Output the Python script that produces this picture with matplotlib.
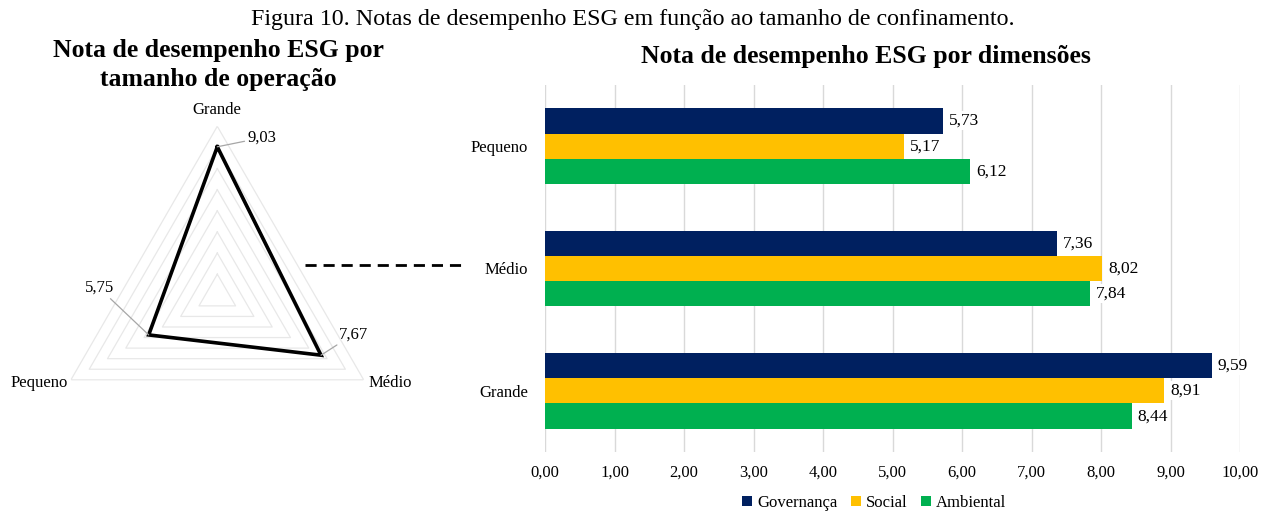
import numpy as np
import matplotlib
matplotlib.use("Agg")
import matplotlib.pyplot as plt
from matplotlib.lines import Line2D

plt.rcParams['font.family'] = ['Liberation Serif', 'DejaVu Serif']

# ---- data ----
radar_labels = ["Grande", "Médio", "Pequeno"]
radar_values = [9.03, 7.67, 5.75]

categories = ["Pequeno", "Médio", "Grande"]
governanca = [5.73, 7.36, 9.59]
social = [5.17, 8.02, 8.91]
ambiental = [6.12, 7.84, 8.44]
series_names = ["Governança", "Social", "Ambiental"]
colors = ["#002060", "#FFC000", "#00B050"]
xticks = [0, 1, 2, 3, 4, 5, 6, 7, 8, 9, 10]

def fmt(v):
    return f"{v:.2f}".replace(".", ",")

W, H = 1265, 515
fig = plt.figure(figsize=(W / 100, H / 100), dpi=100)

fig.text(0.5, 1 - 19 / H, "Figura 10. Notas de desempenho ESG em função ao tamanho de confinamento.",
         ha="center", va="center", fontsize=17.3)

# ---- radar ----
cx, cy, R = 217.3, 295.3, 169
axr = fig.add_axes([(cx - R) / W, (H - cy - R) / H, 2 * R / W, 2 * R / H], projection="polar")
axr.set_theta_offset(np.pi / 2)
axr.set_theta_direction(-1)
axr.set_rlim(2, 10)
axr.grid(False)
axr.spines["polar"].set_visible(False)
axr.set_xticks([])
axr.set_yticks([])
axr.patch.set_alpha(0)
thetas = np.deg2rad([0, 120, 240])
tclosed = np.append(thetas, thetas[0])
for r in range(3, 11):
    axr.plot(tclosed, [r] * 4, color="#e8e8e8", lw=0.9, zorder=1)
vals = np.append(radar_values, radar_values[0])
axr.plot(tclosed, vals, color="black", lw=2.6, zorder=3, solid_joinstyle="miter")

axr.annotate(radar_labels[0], xy=(thetas[0], 10), xytext=(0, 8), textcoords="offset pixels",
             ha="center", va="bottom", fontsize=12)
axr.annotate(radar_labels[1], xy=(thetas[1], 10), xytext=(5, -3), textcoords="offset pixels",
             ha="left", va="center", fontsize=12)
axr.annotate(radar_labels[2], xy=(thetas[2], 10), xytext=(-3, -3), textcoords="offset pixels",
             ha="right", va="center", fontsize=12)

lead = dict(arrowstyle="-", color="#a6a6a6", lw=0.9, shrinkA=0, shrinkB=0)
offsets = [(30, 9), (18, 21), (-35, 47)]
has = ["left", "left", "right"]
for th, v, off, ha in zip(thetas, radar_values, offsets, has):
    axr.annotate(fmt(v), xy=(th, v), xytext=off, textcoords="offset pixels",
                 ha=ha, va="center", fontsize=12, arrowprops=lead)

fig.text(218 / W, 1 - 65 / H, "Nota de desempenho ESG por\ntamanho de operação",
         ha="center", va="center", fontsize=18.5, fontweight="bold", linespacing=1.3)

# dashed connector
fig.add_artist(Line2D([305 / W, 467 / W], [1 - 265 / H, 1 - 265 / H], color="black",
                      lw=2, linestyle=(0, (4, 2.5))))

# ---- bars ----
axb = fig.add_axes([545 / W, (H - 452) / H, 695 / W, 367 / H])
y = np.arange(len(categories))
h = 0.207
for i, (vals_s, c, name) in enumerate(zip([governanca, social, ambiental], colors, series_names)):
    bars = axb.barh(y + (i - 1) * h, vals_s, height=h, color=c, label=name, zorder=3)
    for b, v in zip(bars, vals_s):
        axb.annotate(fmt(v), xy=(v, b.get_y() + b.get_height() / 2), xytext=(6, 0),
                     textcoords="offset pixels", ha="left", va="center", fontsize=12.5,
                     bbox=dict(facecolor="white", edgecolor="none", pad=1), zorder=4)
axb.set_xlim(0, 10)
axb.set_ylim(2.5, -0.5)
axb.set_xticks(xticks)
axb.set_xticklabels([fmt(t) for t in xticks], fontsize=12)
axb.set_yticks(y)
axb.set_yticklabels(categories, fontsize=12)
axb.tick_params(length=0, axis="y", pad=12)
axb.tick_params(length=0, axis="x", pad=9)
axb.grid(axis="x", color="#d9d9d9", lw=1, zorder=0)
for s in axb.spines.values():
    s.set_visible(False)

fig.text(866 / W, 1 - 57 / H, "Nota de desempenho ESG por dimensões",
         ha="center", va="center", fontsize=18.5, fontweight="bold")

fig.legend(loc="center", bbox_to_anchor=(874 / W, 1 - 503 / H), ncol=3, frameon=False,
           fontsize=12, handlelength=0.6, handleheight=0.6, handletextpad=0.3, columnspacing=0.8)

fig.savefig("out.png", dpi=100)
